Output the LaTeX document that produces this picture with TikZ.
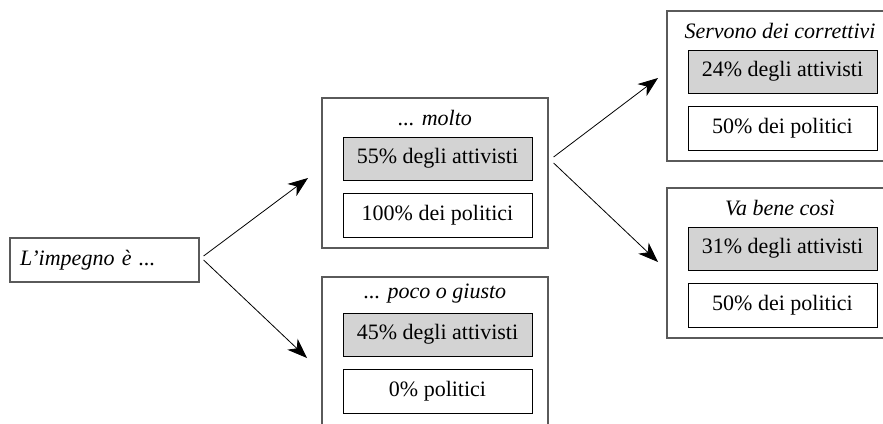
\documentclass[tikz,border=0pt]{standalone}
\usepackage{fontspec}
\setmainfont{Liberation Serif}
\usepackage{tikz}
\usetikzlibrary{positioning, arrows.meta}
\definecolor{shadegray}{HTML}{D3D3D3}
\definecolor{framegray}{HTML}{5A5A5A}

\begin{document}
\begin{tikzpicture}[
  x=1pt, y=-1pt,
  every node/.style={font=\fontsize{22}{26}\selectfont},
  groupbox/.style={
    draw=framegray, line width=1.2pt, minimum width=226pt,
    minimum height=150pt, inner sep=0pt
  },
  titletext/.style={font=\fontsize{22}{26}\selectfont\itshape, inner sep=0pt},
  statbox/.style={
    draw=black, line width=0.9pt, minimum width=189pt,
    minimum height=44pt, inner sep=0pt, fill=white
  },
  actbox/.style={statbox, fill=shadegray, minimum height=43pt},
  arrow/.style={-{Stealth[length=20pt, width=15pt, inset=6pt]}, line width=0.8pt}
]
\clip (0,0) rectangle (883,423);

% question
\node[statbox, text width=169pt, inner xsep=10pt, align=left,
  draw=framegray, line width=1.2pt] (q) at (104.5, 260) {\itshape L'impegno è ...};

% ... molto
\node[groupbox] (m) at (435, 173) {};
\node[titletext] (mT) at (435, 118) {... molto};
\node[actbox] (mA) at (437.5, 158.5) {55\% degli attivisti};
\node[statbox] (mP) at (437.5, 215) {100\% dei politici};

% ... poco o giusto
\node[groupbox] (p) at (435, 352) {};
\node[titletext] (pT) at (435, 294) {... poco o giusto};
\node[actbox] (pA) at (437.5, 334.5) {45\% degli attivisti};
\node[statbox] (pP) at (437.5, 391) {0\% politici};

% Servono dei correttivi
\node[groupbox] (c) at (780, 86) {};
\node[titletext] (cT) at (780, 31) {Servono dei correttivi};
\node[actbox] (cA) at (782.5, 71.5) {24\% degli attivisti};
\node[statbox] (cP) at (782.5, 128) {50\% dei politici};

% Va bene così
\node[groupbox] (b) at (780, 263) {};
\node[titletext] (bT) at (780, 208) {Va bene così};
\node[actbox] (bA) at (782.5, 248.5) {31\% degli attivisti};
\node[statbox] (bP) at (782.5, 305) {50\% dei politici};

% arrow ends
\coordinate (tipM) at (308, 178);
\coordinate (tipP) at (307, 358);
\coordinate (tipC) at (658, 78);
\coordinate (tipB) at (658, 262);

\draw[arrow] ([shift={(4,-4)}]q.east) -- (tipM);
\draw[arrow] ([shift={(4,0)}]q.east) -- (tipP);
\draw[arrow] ([shift={(5,-16)}]m.east) -- (tipC);
\draw[arrow] ([shift={(5,-10)}]m.east) -- (tipB);

\end{tikzpicture}
\end{document}
